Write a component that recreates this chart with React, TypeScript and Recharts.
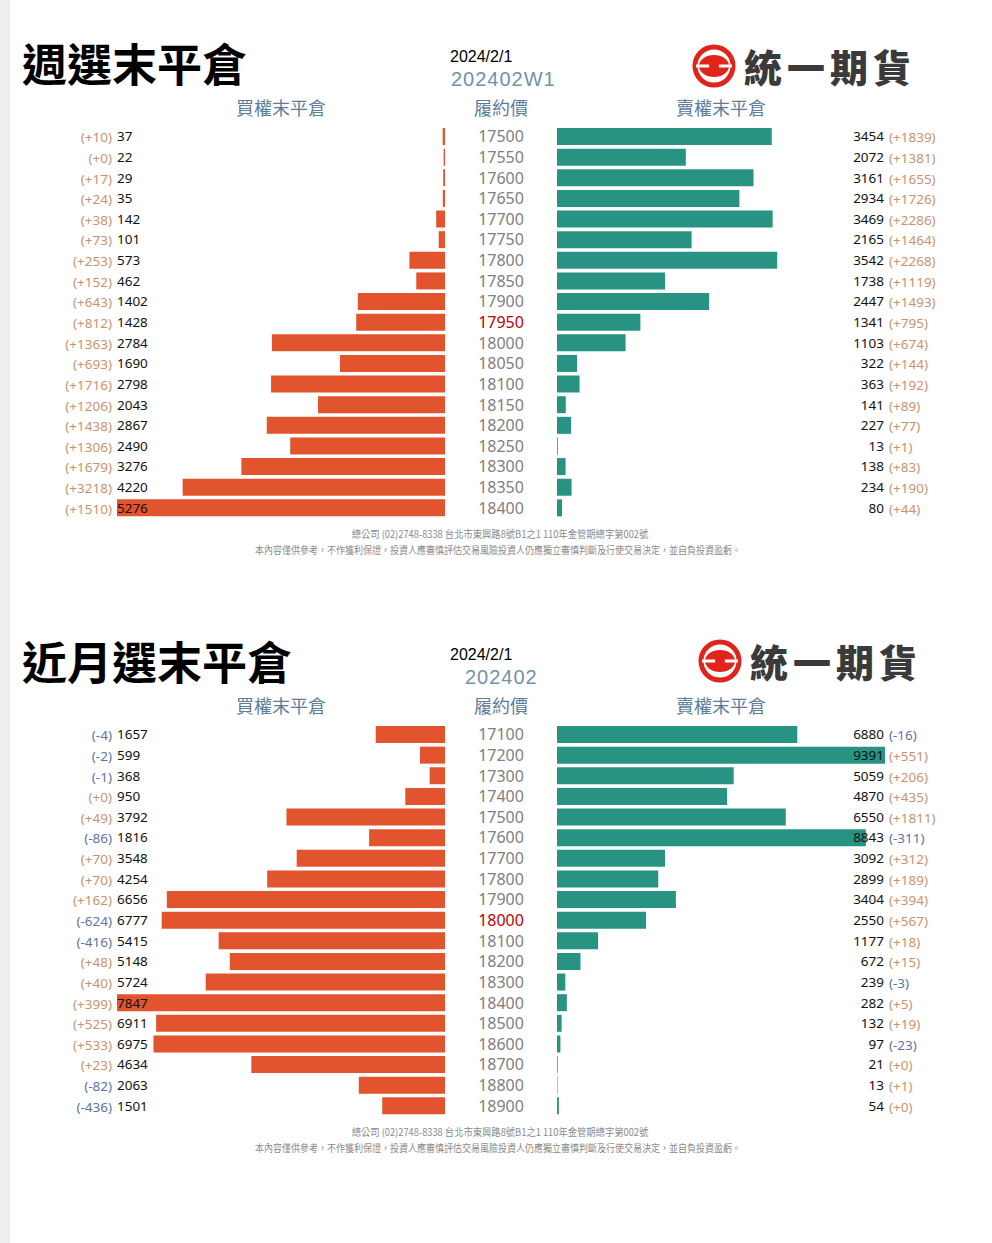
import React from 'react';
import { BarChart, Bar, XAxis, YAxis } from 'recharts';

// 週選 202402W1
const weeklyStrikes = [17500, 17550, 17600, 17650, 17700, 17750, 17800, 17850, 17900, 17950, 18000, 18050, 18100, 18150, 18200, 18250, 18300, 18350, 18400];
const weeklyCallOI = [37, 22, 29, 35, 142, 101, 573, 462, 1402, 1428, 2784, 1690, 2798, 2043, 2867, 2490, 3276, 4220, 5276];
const weeklyCallChg = [10, 0, 17, 24, 38, 73, 253, 152, 643, 812, 1363, 693, 1716, 1206, 1438, 1306, 1679, 3218, 1510];
const weeklyPutOI = [3454, 2072, 3161, 2934, 3469, 2165, 3542, 1738, 2447, 1341, 1103, 322, 363, 141, 227, 13, 138, 234, 80];
const weeklyPutChg = [1839, 1381, 1655, 1726, 2286, 1464, 2268, 1119, 1493, 795, 674, 144, 192, 89, 77, 1, 83, 190, 44];
const weeklyAtm = 17950;

// 近月 202402
const monthlyStrikes = [17100, 17200, 17300, 17400, 17500, 17600, 17700, 17800, 17900, 18000, 18100, 18200, 18300, 18400, 18500, 18600, 18700, 18800, 18900];
const monthlyCallOI = [1657, 599, 368, 950, 3792, 1816, 3548, 4254, 6656, 6777, 5415, 5148, 5724, 7847, 6911, 6975, 4634, 2063, 1501];
const monthlyCallChg = [-4, -2, -1, 0, 49, -86, 70, 70, 162, -624, -416, 48, 40, 399, 525, 533, 23, -82, -436];
const monthlyPutOI = [6880, 9391, 5059, 4870, 6550, 8843, 3092, 2899, 3404, 2550, 1177, 672, 239, 282, 132, 97, 21, 13, 54];
const monthlyPutChg = [-16, 551, 206, 435, 1811, -311, 312, 189, 394, 567, 18, 15, -3, 5, 19, -23, 0, 1, 0];
const monthlyAtm = 18000;

const FONT = '"Noto Sans", "Noto Sans CJK TC", sans-serif';
const CJK = '"Noto Sans CJK TC", "Noto Sans", sans-serif';
const ORANGE = '#e2542e';
const TEAL = '#289383';
const UP = '#c89470';
const DOWN = '#5f73a8';
const HEAD = '#5d7d9c';

const ROW = 20.63;

const fmtChg = (v: number) => (v < 0 ? `(${v})` : `(+${v})`);

interface PanelProps {
  top: number;
  title: string;
  series: string;
  seriesLeft: number;
  strikes: number[];
  callOI: number[];
  callChg: number[];
  putOI: number[];
  putChg: number[];
  atm: number;
  shared: boolean;
}

const Logo: React.FC<{ x: number; y: number }> = ({ x, y }) => (
  <div style={{ position: 'absolute', left: x, top: y, width: 240, height: 46 }}>
    <svg width={46} height={46} style={{ position: 'absolute', left: 0, top: 0 }}>
      <circle cx={23} cy={23} r={19} fill="#fff" stroke="#e0241c" strokeWidth={5} />
      <ellipse cx={23} cy={23} rx={15} ry={11} fill="#e0241c" />
      <rect x={5} y={21.5} width={36} height={3} fill="#fff" />
      <circle cx={23} cy={23} r={5} fill="#e0241c" />
    </svg>
    <div style={{ position: 'absolute', left: 53, top: 0, lineHeight: '46px', fontFamily: CJK, fontWeight: 900, fontSize: 38, color: '#3a3a3a', letterSpacing: 5, whiteSpace: 'nowrap' }}>
      統一期貨
    </div>
  </div>
);

const Panel: React.FC<PanelProps> = (p) => {
  const n = p.strikes.length;
  const plotTop = p.top + 136 - ROW / 2;
  const H = n * ROW;
  const callMax = Math.max(...p.callOI);
  const putMax = Math.max(...p.putOI);
  const leftMax = p.shared ? Math.max(callMax, putMax) : callMax;
  const rightMax = p.shared ? Math.max(callMax, putMax) : putMax;
  const data = p.strikes.map((s, i) => ({ strike: String(s), call: p.callOI[i], put: p.putOI[i] }));

  const CallTick = (props: any) => {
    const { x, y, payload } = props;
    const i = payload.index;
    const c = p.callChg[i];
    return (
      <g>
        <text x={x - 5} y={y + 1} textAnchor="end" dominantBaseline="central" fontSize={13.5} fontFamily={FONT} fill={c < 0 ? DOWN : UP}>
          {fmtChg(c)}
        </text>
        <text x={x} y={y} textAnchor="start" dominantBaseline="central" fontSize={13.5} fontFamily={FONT} fill="#111">
          {p.callOI[i]}
        </text>
      </g>
    );
  };

  const PutTick = (props: any) => {
    const { x, y, payload } = props;
    const i = payload.index;
    const c = p.putChg[i];
    return (
      <g>
        <text x={x - 1} y={y} textAnchor="end" dominantBaseline="central" fontSize={13.5} fontFamily={FONT} fill="#111">
          {p.putOI[i]}
        </text>
        <text x={x + 4} y={y + 1} textAnchor="start" dominantBaseline="central" fontSize={13.5} fontFamily={FONT} fill={c < 0 ? DOWN : UP}>
          {fmtChg(c)}
        </text>
      </g>
    );
  };

  const StrikeTick = (props: any) => {
    const { x, y, payload } = props;
    const isAtm = Number(payload.value) === p.atm;
    return (
      <text x={x - 56} y={y} textAnchor="middle" dominantBaseline="central" fontSize={16} fontFamily={FONT} fill={isAtm ? '#c00000' : '#808080'}>
        {payload.value}
      </text>
    );
  };

  return (
    <>
      <div style={{ position: 'absolute', left: 22, top: p.top + 38, fontFamily: CJK, fontWeight: 700, fontSize: 45, lineHeight: '50px', color: '#000', whiteSpace: 'nowrap' }}>
        {p.title}
      </div>
      <div style={{ position: 'absolute', left: 450, top: p.top + 48, fontFamily: '"Liberation Sans", sans-serif', fontSize: 16, lineHeight: '18px', color: '#000' }}>
        2024/2/1
      </div>
      <div style={{ position: 'absolute', left: p.seriesLeft, top: p.top + 68, fontFamily: '"Liberation Sans", sans-serif', fontSize: 20, lineHeight: '22px', letterSpacing: 1, color: '#6f93ac' }}>
        {p.series}
      </div>
      {[
        ['買權末平倉', 281],
        ['履約價', 501],
        ['賣權末平倉', 721],
      ].map(([t, cx]) => (
        <div key={t as string} style={{ position: 'absolute', left: (cx as number) - 60, width: 120, top: p.top + 95, textAlign: 'center', fontFamily: CJK, fontSize: 18, lineHeight: '24px', color: HEAD }}>
          {t}
        </div>
      ))}

      <div style={{ position: 'absolute', left: 0, top: plotTop }}>
        <BarChart width={460} height={H} data={data} layout="vertical" margin={{ top: 0, right: 15, bottom: 0, left: 0 }} barSize={17}>
          <XAxis type="number" domain={[0, leftMax]} reversed hide />
          <YAxis type="category" dataKey="strike" width={117} tickLine={false} axisLine={false} tickSize={0} tickMargin={0} tick={CallTick} interval={0} />
          <Bar dataKey="call" fill={ORANGE} isAnimationActive={false} />
        </BarChart>
      </div>

      <div style={{ position: 'absolute', left: 445, top: plotTop }}>
        <BarChart width={547} height={H} data={data} layout="vertical" margin={{ top: 0, right: 0, bottom: 0, left: 0 }} barSize={17}>
          <XAxis type="number" domain={[0, rightMax]} hide />
          <YAxis yAxisId="s" type="category" dataKey="strike" width={112} tickLine={false} axisLine={false} tickSize={0} tickMargin={0} tick={StrikeTick} interval={0} />
          <YAxis yAxisId="r" orientation="right" type="category" dataKey="strike" width={107} tickLine={false} axisLine={false} tickSize={0} tickMargin={0} tick={PutTick} interval={0} />
          <Bar yAxisId="s" dataKey="put" fill={TEAL} isAnimationActive={false} />
        </BarChart>
      </div>

      <div style={{ position: 'absolute', left: 200, width: 600, top: p.top + 527, textAlign: 'center', fontFamily: CJK, fontSize: 10, lineHeight: '14px', color: '#8a8a8a', transform: 'scaleX(0.93)', whiteSpace: 'nowrap' }}>
        總公司 (02)2748-8338 台北市東興路8號B1之1 110年金管期總字第002號
      </div>
      <div style={{ position: 'absolute', left: 148, width: 700, top: p.top + 543, textAlign: 'center', fontFamily: CJK, fontSize: 10, lineHeight: '14px', color: '#8a8a8a', transform: 'scaleX(0.9)', whiteSpace: 'nowrap' }}>
        本內容僅供參考，不作獲利保證，投資人應審慎評估交易風險投資人仍應獨立審慎判斷及行使交易決定，並自負投資盈虧。
      </div>
    </>
  );
};

export default function App() {
  return (
    <div style={{ position: 'absolute', left: 0, top: 0, width: 992, height: 1243, background: '#fff', overflow: 'hidden' }}>
      <div style={{ position: 'absolute', left: 0, top: 0, width: 10, height: 1243, background: '#eeeeee' }} />
      <Panel
        top={0}
        title="週選末平倉"
        series="202402W1"
        seriesLeft={451}
        strikes={weeklyStrikes}
        callOI={weeklyCallOI}
        callChg={weeklyCallChg}
        putOI={weeklyPutOI}
        putChg={weeklyPutChg}
        atm={weeklyAtm}
        shared
      />
      <Logo x={691} y={43} />
      <Panel
        top={598}
        title="近月選末平倉"
        series="202402"
        seriesLeft={465}
        strikes={monthlyStrikes}
        callOI={monthlyCallOI}
        callChg={monthlyCallChg}
        putOI={monthlyPutOI}
        putChg={monthlyPutChg}
        atm={monthlyAtm}
        shared={false}
      />
      <Logo x={697} y={638} />
    </div>
  );
}
